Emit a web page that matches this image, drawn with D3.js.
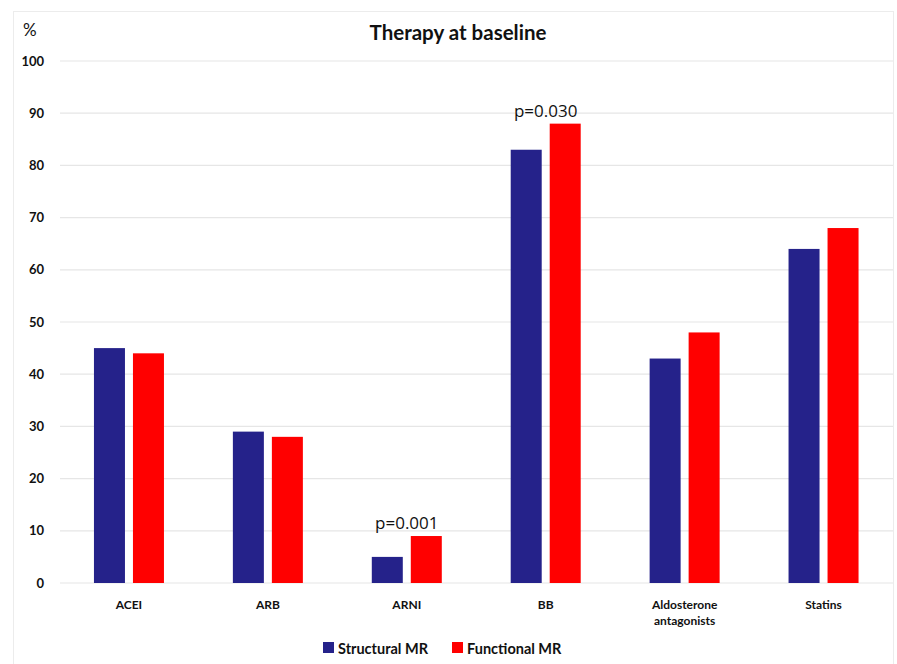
<!DOCTYPE html>
<html>
<head>
<meta charset="utf-8">
<script src="https://cdn.jsdelivr.net/npm/d3@7"></script>
<style>
  html, body { margin: 0; padding: 0; background: #fff; }
  svg { display: block; font-family: Lato, "Open Sans", sans-serif; }
</style>
</head>
<body>
<svg id="chart" width="897" height="664"></svg>
<script>
// Therapy use at baseline, % of patients
const categories = ["ACEI", "ARB", "ARNI", "BB", "Aldosterone antagonists", "Statins"];
const categoryLines = [["ACEI"], ["ARB"], ["ARNI"], ["BB"], ["Aldosterone", "antagonists"], ["Statins"]];
const seriesNames = ["Structural MR", "Functional MR"];
const structural = [45, 29, 5, 83, 43, 64];
const functional = [44, 28, 9, 88, 48, 68];
const yTicks = [0, 10, 20, 30, 40, 50, 60, 70, 80, 90, 100];
const pLabels = [
  { category: "ARNI", text: "p=0.001", value: 9 },
  { category: "BB", text: "p=0.030", value: 88 }
];
const colors = ["#25228a", "#ff0000"];

const svg = d3.select("#chart");

// outer frame
svg.append("rect")
  .attr("x", 13.5).attr("y", 11.5)
  .attr("width", 880).attr("height", 660)
  .attr("fill", "#fff").attr("stroke", "#ececec");

const x = d3.scaleBand().domain(categories).range([59.5, 893]).paddingInner(0).paddingOuter(0);
const groupPad = (x.bandwidth() - 70) / 2;
const xs = d3.scaleBand().domain(seriesNames)
  .range([groupPad, x.bandwidth() - groupPad]).paddingInner(8 / 39).paddingOuter(0);
const y = d3.scaleLinear().domain([0, 100]).range([583, 61]);

// gridlines
svg.append("g")
  .selectAll("line")
  .data(yTicks)
  .join("line")
  .attr("x1", 60).attr("x2", 893)
  .attr("y1", d => y(d)).attr("y2", d => y(d))
  .attr("stroke", "#e6e6e6").attr("stroke-width", 1.2);

// y axis labels
const yAxis = d3.axisLeft(y).tickValues(yTicks).tickSize(0).tickPadding(0);
svg.append("g")
  .attr("transform", "translate(44,0)")
  .call(yAxis)
  .call(g => g.select(".domain").remove())
  .call(g => g.selectAll("text")
    .attr("font-family", "Lato, sans-serif")
    .attr("font-size", 13).attr("font-weight", "bold").attr("fill", "#111"));

// bars
const series = [structural, functional];
series.forEach((vals, si) => {
  svg.append("g")
    .selectAll("rect")
    .data(vals)
    .join("rect")
    .attr("x", (d, i) => x(categories[i]) + xs(seriesNames[si]))
    .attr("y", d => y(d))
    .attr("width", xs.bandwidth())
    .attr("height", d => y(0) - y(d))
    .attr("fill", colors[si]);
});

// category labels
const xl = svg.append("g");
categoryLines.forEach((lines, i) => {
  const t = xl.append("text")
    .attr("x", x(categories[i]) + x.bandwidth() / 2)
    .attr("y", 609)
    .attr("text-anchor", "middle")
    .attr("font-size", 12).attr("font-weight", "bold").attr("fill", "#111");
  lines.forEach((ln, j) => {
    t.append("tspan").attr("x", x(categories[i]) + x.bandwidth() / 2)
      .attr("dy", j === 0 ? 0 : 16).text(ln);
  });
});

// p-value annotations
svg.append("g")
  .selectAll("text")
  .data(pLabels)
  .join("text")
  .attr("x", d => x(d.category) + x.bandwidth() / 2)
  .attr("y", d => y(d.value) - 7)
  .attr("text-anchor", "middle")
  .attr("font-family", "'Open Sans', sans-serif")
  .attr("font-size", 17).attr("fill", "#111")
  .text(d => d.text);

// title and unit
svg.append("text")
  .attr("x", 458).attr("y", 40)
  .attr("text-anchor", "middle")
  .attr("font-size", 20.5).attr("font-weight", "bold").attr("fill", "#111")
  .text("Therapy at baseline");
svg.append("text")
  .attr("x", 23).attr("y", 36)
  .attr("font-size", 17).attr("fill", "#111")
  .text("%");

// legend
const legendX = [323, 452];
const lg = svg.append("g");
seriesNames.forEach((name, i) => {
  lg.append("rect")
    .attr("x", legendX[i]).attr("y", 642)
    .attr("width", 11).attr("height", 11)
    .attr("fill", colors[i]);
  lg.append("text")
    .attr("x", legendX[i] + 15).attr("y", 653.5)
    .attr("font-size", 14.5).attr("font-weight", "bold").attr("fill", "#111")
    .text(name);
});
</script>
</body>
</html>
